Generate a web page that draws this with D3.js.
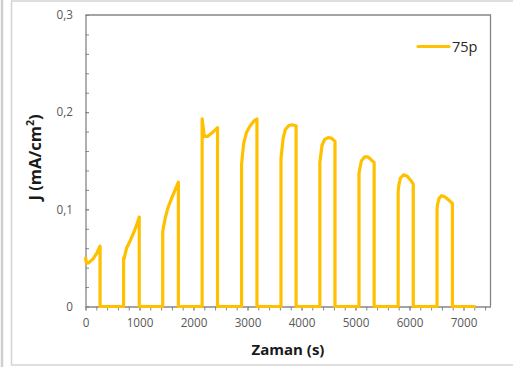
<!DOCTYPE html>
<html>
<head>
<meta charset="utf-8">
<script src="https://cdn.jsdelivr.net/npm/d3@7/dist/d3.min.js"></script>
<style>
  html, body { margin: 0; padding: 0; background: #fff; }
  svg { display: block; }
  text { font-family: "Open Sans", sans-serif; }
</style>
</head>
<body>
<svg id="chart" width="513" height="367"></svg>
<script>
// ---- data ----
const seriesName = "75p";
const timeS = [
  0, 15, 60, 140, 210, 270, 270,
  705, 705, 715, 760, 830, 900, 960, 995, 995,
  1430, 1430, 1445, 1480, 1530, 1600, 1660, 1720, 1720,
  2160, 2160, 2200, 2260, 2350, 2445, 2445,
  2890, 2890, 2905, 2930, 2980, 3050, 3120, 3175, 3175,
  3620, 3620, 3635, 3660, 3700, 3760, 3820, 3900, 3900,
  4340, 4340, 4355, 4380, 4430, 4500, 4560, 4620, 4620,
  5065, 5065, 5080, 5110, 5170, 5230, 5290, 5345, 5345,
  5790, 5790, 5800, 5830, 5890, 5960, 6020, 6070, 6070,
  6510, 6510, 6520, 6545, 6590, 6650, 6720, 6795, 6795,
  7225
];
const currentJ = [
  0.051, 0.045, 0.045, 0.049, 0.055, 0.062, 0,
  0, 0.050, 0.049, 0.060, 0.068, 0.077, 0.086, 0.092, 0,
  0, 0.077, 0.082, 0.092, 0.102, 0.112, 0.120, 0.128, 0,
  0, 0.193, 0.175, 0.175, 0.179, 0.184, 0,
  0, 0.146, 0.155, 0.168, 0.179, 0.186, 0.191, 0.193, 0,
  0, 0.152, 0.160, 0.173, 0.182, 0.186, 0.187, 0.186, 0,
  0, 0.148, 0.155, 0.166, 0.172, 0.174, 0.173, 0.170, 0,
  0, 0.137, 0.142, 0.150, 0.154, 0.154, 0.151, 0.148, 0,
  0, 0.118, 0.124, 0.132, 0.1355, 0.134, 0.130, 0.126, 0,
  0, 0.100, 0.105, 0.111, 0.114, 0.113, 0.110, 0.106, 0,
  0
];
const xTicks = [0, 1000, 2000, 3000, 4000, 5000, 6000, 7000];
const xTickLabels = ["0", "1000", "2000", "3000", "4000", "5000", "6000", "7000"];
const xMinorTicks = d3.range(0, 7500, 200);
const yTicks = [0, 0.1, 0.2, 0.3];
const yTickLabels = ["0", "0,1", "0,2", "0,3"];
const yMinorTicks = d3.range(0, 0.3001, 0.02);
const xTitle = "Zaman (s)";

// ---- drawing ----
const svg = d3.select("#chart");
const W = 513, H = 367;
const plot = { left: 85.5, right: 490.5, top: 15, bottom: 306.5 };

// outer frames
svg.append("line").attr("x1", 2).attr("x2", 2).attr("y1", 0).attr("y2", H)
  .attr("stroke", "#cfcfcf").attr("stroke-width", 2.5);
svg.append("rect").attr("x", 11.5).attr("y", 1).attr("width", 620).attr("height", 364)
  .attr("fill", "none").attr("stroke", "#d4d4d4").attr("stroke-width", 1.5);

const x = d3.scaleLinear().domain([0, 7500]).range([plot.left, plot.right]);
const y = d3.scaleLinear().domain([0, 0.3]).range([plot.bottom, plot.top]);

const axisColor = "#868686";

// x minor ticks
svg.append("g").attr("transform", `translate(0,${plot.bottom})`)
  .call(d3.axisBottom(x).tickValues(xMinorTicks).tickSize(4).tickFormat(""))
  .call(g => g.select(".domain").remove())
  .call(g => g.selectAll("line").attr("stroke", axisColor));

// x axis major
svg.append("g").attr("transform", `translate(0,${plot.bottom})`)
  .call(d3.axisBottom(x).tickValues(xTicks).tickSize(4).tickPadding(8).tickSizeOuter(0)
    .tickFormat((d, i) => xTickLabels[i]))
  .call(g => g.select(".domain").attr("stroke", axisColor).attr("stroke-width", 1.3))
  .call(g => g.selectAll(".tick line").attr("stroke", axisColor))
  .call(g => g.selectAll("text").attr("fill", "#595959")
    .style("font-size", "11.7px").style("font-family", "'Open Sans', sans-serif"));

// y minor ticks (inside)
svg.append("g").attr("transform", `translate(${plot.left},0)`)
  .call(d3.axisLeft(y).tickValues(yMinorTicks).tickSize(-3.5).tickFormat(""))
  .call(g => g.select(".domain").remove())
  .call(g => g.selectAll("line").attr("stroke", axisColor));

// y axis major
svg.append("g").attr("transform", `translate(${plot.left},0)`)
  .call(d3.axisLeft(y).tickValues(yTicks).tickSize(-3.5).tickPadding(12.5).tickSizeOuter(0)
    .tickFormat((d, i) => yTickLabels[i]))
  .call(g => g.select(".domain").attr("stroke", axisColor).attr("stroke-width", 1.3))
  .call(g => g.selectAll(".tick line").attr("stroke", axisColor))
  .call(g => g.selectAll("text").attr("fill", "#595959")
    .style("font-size", "11.7px").style("font-family", "'Open Sans', sans-serif"));

// plot border (top, right)
svg.append("path")
  .attr("d", `M${plot.left},${plot.top}H${plot.right}V${plot.bottom}`)
  .attr("fill", "none").attr("stroke", axisColor).attr("stroke-width", 1.3);

// series line
const pts = timeS.map((t, i) => [t, currentJ[i]]);
const line = d3.line().x(d => x(d[0])).y(d => y(d[1]));
svg.append("path").datum(pts)
  .attr("d", line)
  .attr("fill", "none").attr("stroke", "#FFC000").attr("stroke-width", 3.2)
  .attr("stroke-linejoin", "round").attr("stroke-linecap", "butt");

// legend
const lg = svg.append("g");
lg.append("line").attr("x1", 418).attr("x2", 449).attr("y1", 46.5).attr("y2", 46.5)
  .attr("stroke", "#FFC000").attr("stroke-width", 3.2).attr("stroke-linecap", "round");
lg.append("text").attr("x", 452).attr("y", 51.5).text(seriesName)
  .attr("fill", "#262626").style("font-size", "14.5px");

// axis titles
svg.append("text").attr("x", 288).attr("y", 355).attr("text-anchor", "middle")
  .attr("fill", "#1a1a1a").style("font-size", "15px").style("font-weight", "bold")
  .text(xTitle);

const yt = svg.append("text").attr("transform", "translate(40.5,157.5) rotate(-90)")
  .attr("text-anchor", "middle").attr("fill", "#1a1a1a")
  .style("font-size", "16.5px").style("font-weight", "bold");
yt.append("tspan").text("J (mA/cm");
yt.append("tspan").text("2").attr("baseline-shift", "super").style("font-size", "10.5px");
yt.append("tspan").text(")");
</script>
</body>
</html>
